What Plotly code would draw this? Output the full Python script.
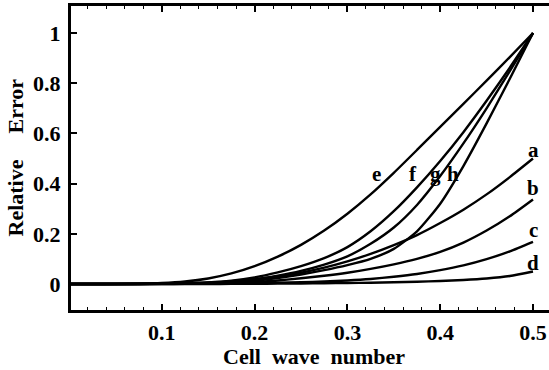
import plotly.graph_objects as go

# cell wave number grid
wave_number = [0, 0.025, 0.05, 0.075, 0.1, 0.125, 0.15, 0.175, 0.2, 0.225, 0.25,
               0.275, 0.3, 0.325, 0.35, 0.375, 0.4, 0.425, 0.45, 0.475, 0.5]

err_a = [0, 0, 0.0002, 0.0007, 0.0015, 0.003, 0.006, 0.011, 0.019, 0.03, 0.045,
         0.065, 0.09, 0.12, 0.155, 0.195, 0.243, 0.296, 0.357, 0.426, 0.5]
err_b = [0, 0, 0, 0.0002, 0.0005, 0.001, 0.002, 0.004, 0.008, 0.014, 0.023,
         0.033, 0.045, 0.06, 0.078, 0.10, 0.128, 0.165, 0.213, 0.27, 0.337]
err_c = [0, 0, 0, 0, 0, 0.0005, 0.001, 0.002, 0.003, 0.005, 0.007,
         0.01, 0.014, 0.02, 0.029, 0.04, 0.055, 0.074, 0.099, 0.13, 0.168]
err_d = [0, 0, 0, 0, 0, 0, 0, 0.0005, 0.001, 0.0015, 0.002,
         0.003, 0.004, 0.005, 0.007, 0.009, 0.012, 0.016, 0.022, 0.032, 0.05]
err_e = [0, 0, 0.0003, 0.0015, 0.004, 0.010, 0.022, 0.042, 0.071, 0.109, 0.156,
         0.213, 0.28, 0.357, 0.443, 0.534, 0.626, 0.718, 0.81, 0.904, 1.0]
err_f = [0, 0, 0.0001, 0.0004, 0.001, 0.003, 0.006, 0.013, 0.026, 0.046, 0.071,
         0.103, 0.147, 0.21, 0.29, 0.385, 0.49, 0.605, 0.73, 0.862, 1.0]
err_g = [0, 0, 0, 0.0002, 0.0005, 0.0015, 0.004, 0.009, 0.018, 0.033, 0.052,
         0.077, 0.11, 0.16, 0.225, 0.315, 0.43, 0.56, 0.70, 0.848, 1.0]
err_h = [0, 0, 0, 0.0001, 0.0003, 0.001, 0.0025, 0.006, 0.013, 0.024, 0.038,
         0.055, 0.075, 0.10, 0.14, 0.21, 0.32, 0.47, 0.64, 0.818, 1.0]

curve_names = ["a", "b", "c", "d", "e", "f", "g", "h"]
curve_values = [err_a, err_b, err_c, err_d, err_e, err_f, err_g, err_h]

# label anchor positions (data coords)
label_names = ["a", "b", "c", "d", "e", "f", "g", "h"]
label_x = [0.5, 0.5, 0.5, 0.5, 0.331, 0.3705, 0.3944, 0.4138]
label_y = [0.534, 0.382, 0.215, 0.084, 0.438, 0.438, 0.438, 0.438]

x_ticks = [0.1, 0.2, 0.3, 0.4, 0.5]
y_ticks = [0, 0.2, 0.4, 0.6, 0.8, 1]
y_tick_text = ["0", "0.2", "0.4", "0.6", "0.8", "1"]

FONT = "Liberation Serif"

fig = go.Figure()
for name, vals in zip(curve_names, curve_values):
    fig.add_trace(go.Scatter(x=wave_number, y=vals, mode="lines", name=name,
                             line=dict(color="black", width=2.4, shape="spline", smoothing=0.6),
                             showlegend=False, hoverinfo="skip"))

for n, lx, ly in zip(label_names, label_x, label_y):
    fig.add_annotation(x=lx, y=ly, text="<b>%s</b>" % n, showarrow=False,
                       font=dict(family=FONT, size=21, color="black"),
                       xanchor="center", yanchor="middle")

fig.add_annotation(xref="paper", yref="paper", x=(314 - 71) / 478, y=-(356 - 310) / 304,
                   text="<b>Cell\u00a0\u00a0wave\u00a0\u00a0number</b>", showarrow=False,
                   font=dict(family=FONT, size=22, color="black"),
                   xanchor="center", yanchor="middle")
# y-axis title words, placed separately to keep the wide word gap
fig.add_annotation(xref="paper", yref="paper", x=(15 - 71) / 478, y=(310 - 198.5) / 304,
                   text="<b>Relative</b>", showarrow=False, textangle=-90,
                   font=dict(family=FONT, size=22, color="black"),
                   xanchor="center", yanchor="middle")
fig.add_annotation(xref="paper", yref="paper", x=(15 - 71) / 478, y=(310 - 106.5) / 304,
                   text="<b>Error</b>", showarrow=False, textangle=-90,
                   font=dict(family=FONT, size=22, color="black"),
                   xanchor="center", yanchor="middle")

x0 = (71 - 69) / 928
x1 = x0 + 478 / 928
fig.update_layout(
    width=549, height=370,
    margin=dict(l=71, r=0, t=6, b=60),
    paper_bgcolor="white", plot_bgcolor="white",
    font=dict(family=FONT, size=22, color="black"),
    xaxis=dict(range=[x0, x1], tickvals=x_ticks, ticktext=["<b>%g</b>" % v for v in x_ticks],
               showgrid=False, zeroline=False, showline=True, linecolor="black", linewidth=3,
               mirror="ticks", ticks="inside", ticklen=6, tickwidth=1.5, tickcolor="black",
               minor=dict(dtick=0.02, tick0=0, ticks="inside", ticklen=3, tickcolor="black", tickwidth=1),
               tickfont=dict(family=FONT, size=22, color="black"), ticklabelstandoff=1),
    yaxis=dict(range=[-0.1036, 1.1076], tickvals=y_ticks,
               ticktext=["<b>%s</b>" % t for t in y_tick_text],
               showgrid=False, zeroline=False, showline=True, linecolor="black", linewidth=3,
               mirror=False, ticks="inside", ticklen=6, tickwidth=1.5, tickcolor="black",
               tickfont=dict(family=FONT, size=22, color="black"), ticklabelstandoff=3),
)

fig.write_html("out.html")
